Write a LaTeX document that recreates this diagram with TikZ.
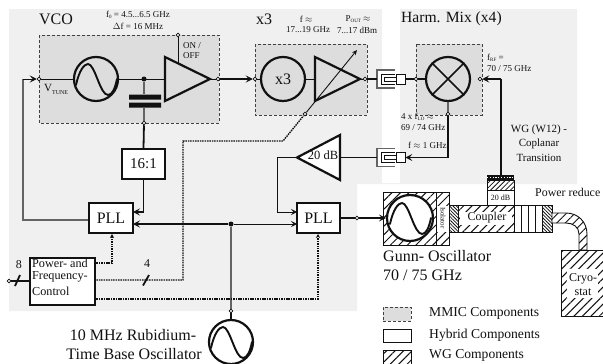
\documentclass[tikz,border=0pt]{standalone}
\usepackage{fontspec}
\setmainfont{Liberation Serif}
\usetikzlibrary{arrows.meta,patterns.meta}
\newcommand{\fsz}[1]{\fontsize{#1}{#1}\selectfont}
\definecolor{panel}{HTML}{F0F0F0}
\definecolor{mmic}{HTML}{DDDDDD}
\definecolor{ink}{HTML}{111111}
\tikzset{
  x=1pt,y=-1pt,
  txt/.style={inner sep=0pt,text=ink,align=center,font=\fsz{#1}},
  txt/.default=9,
  ltxt/.style={inner sep=0pt,text=ink,anchor=west,align=left,font=\fsz{#1}},
  mmicbox/.style={draw=ink!80,densely dashed,line width=.9pt,fill=mmic},
  block/.style={draw=ink,line width=1.9pt,fill=white,inner sep=0pt,text=ink},
  rnd/.style={circle,draw=ink,line width=2.2pt,minimum size=#1,inner sep=0pt,fill=none},
  rnd/.default=44pt,
  port/.style={circle,draw=ink,line width=.7pt,fill=white,minimum size=3.8pt,inner sep=0pt},
  dot/.style={circle,fill=ink,minimum size=5pt,inner sep=0pt},
  thin line/.style={draw=ink,line width=.9pt},
  gline/.style={draw=ink!65,line width=1.1pt},
  thick line/.style={draw=ink,line width=1.8pt},
  dots/.style={draw=ink,line width=1.4pt,dash pattern=on 1.5pt off .9pt},
  arr/.style={-{Stealth[length=7pt,width=7pt,inset=3pt]}},
  amp/.style={draw=ink,line width=2.2pt,line join=miter,fill=#1},
  amp/.default=none,
  wide hatch/.style={pattern={Lines[angle=45,distance=6pt,line width=1pt]},pattern color=ink},
  dense hatch/.style={pattern={Lines[angle=-45,distance=2.4pt,line width=.8pt]},pattern color=ink},
  wgbox/.style={draw=ink,line width=.9pt},
  pics/sine/.style={code={\draw[ink,line width=1.9pt,line cap=round]
     (-20,6) .. controls (-17,-8) and (-12,-15) .. (-8,-15)
     .. controls (-1,-15) and (4,16) .. (12,16)
     .. controls (16,16) and (19,10) .. (21,0);}},
  pics/coplanar/.style={code={
     \fill[white] (0,-9) rectangle (19,9);
     \draw[ink!65,line width=1.4pt] (18,-9) -- (0,-9) -- (0,9) -- (18,9);
     \draw[ink,line width=.9pt] (18,-5) -- (4,-5) -- (4,5) -- (18,5);
     \draw[ink,line width=.9pt,fill=white] (7,-2) rectangle (19,2);}},
}
\begin{document}
\begin{tikzpicture}
\clip (0,0) rectangle (603,364);
\fill[white] (0,0) rectangle (603,364);
% panels
\fill[panel] (9,9) -- (382,9) -- (382,183) -- (400,183) -- (400,9) -- (577,9) -- (577,184) -- (357,184) -- (357,311) -- (9,311) -- cycle;
% MMIC boxes
\path[mmicbox] (39,35) rectangle (219,123);
\path[mmicbox] (255,44) rectangle (367,115);
\path[mmicbox] (416,44) rectangle (482,115);
% ports
\node[port] (pTune) at (39,79) {};
\node[port] (pVcoOut) at (218,79) {};
\node[port] (pOn) at (178,35) {};
\node[port] (pDiv) at (144,123) {};
\node[port] (pX3In) at (255,79) {};
\node[port] (pX3Out) at (365,79) {};
\node[port] (pGain) at (305,114) {};
\node[port] (pMixIn) at (416,79) {};
\node[port] (pMixRF) at (480,79) {};
\node[port] (pMixIF) at (448,114) {};
\node[port] (pRef) at (231,311) {};
\node[port] (pIn) at (9,281) {};
\node[port] (pGunn) at (357,218) {};
% main blocks
\node[block,minimum width=43pt,minimum height=30pt,font=\fsz{15}] (div) at (143.5,164) {16:1};
\node[block,minimum width=44pt,minimum height=30pt,font=\fsz{16}] (pllA) at (111,218) {PLL};
\node[block,minimum width=43pt,minimum height=30pt,font=\fsz{16}] (pllB) at (318.5,218) {PLL};
\node[block,minimum width=65pt,minimum height=47pt,line width=1.5pt,anchor=north west] (ctrl) at (29,257) {};
% internal coordinates
\coordinate (aIn) at (165,79); \coordinate (aOut) at (210,79);
\coordinate (bIn) at (315,79); \coordinate (bOut) at (360,79);
\coordinate (bendTune) at (23,79);
\node[dot] (jVco) at (144,79) {};
\node[dot] (jRef) at (231,224) {};
% oscillator, x3, mixer
\node[rnd] (oscV) at (96,79) {};
\node[rnd,font=\fsz{16},text=ink] (x3c) at (283,79) {x3};
\node[rnd] (mix) at (448,79) {};
\node[rnd] (oscR) at (231,342) {};
\pic at (oscV) {sine};
\pic at (oscR) {sine};
\draw[ink,line width=1.7pt] (mix.north west) -- (mix.south east) (mix.north east) -- (mix.south west);
% VCO lines
\draw[thin line] (pTune) -- (oscV) (oscV) -- (aIn);
\draw[thin line] (pOn) -- (178,63);
\draw[gline] (jVco) -- (144,94) (144,108) -- (pDiv);
\fill[ink] (129,94.5) rectangle (161,99.5) (129,102.5) rectangle (161,107.5);
\draw[amp=mmic] (165,57) -- (aOut) -- (165,101) -- cycle;
\draw[thin line] (aOut) -- (pVcoOut);
% x3 lines
\draw[thin line] (x3c) -- (bIn);
\draw[thin line] (pX3In) -- (x3c);
\draw[amp=mmic] (315,57) -- (bOut) -- (315,101) -- cycle;
\draw[thin line] (bOut) -- (pX3Out);
\coordinate (gainTip) at (357,50);
\draw[thin line,-{Stealth[length=5pt,width=4.5pt]}] (pGain) -- (gainTip);
\draw[thick line,arr] (pVcoOut) -- (pX3In);
% coplanar transitions
\node[draw=ink,line width=.8pt,fill=white,minimum width=9pt,minimum height=10pt,inner sep=0pt] (trU) at (400.5,79) {};
\node[draw=ink,line width=.8pt,fill=white,minimum width=9pt,minimum height=10pt,inner sep=0pt] (trL) at (400.5,157.5) {};
\pic at (377,79) {coplanar};
\pic at (377,157.5) {coplanar};
\coordinate (trUin) at (377,79);
\coordinate (trLout) at (377,157.5);
\draw[thick line] (pX3Out) -- (trUin);
\draw[thick line] (trU) -- (pMixIn);
\draw[thick line] (pMixIn) -- (mix);
\draw[gline] (mix) -- (pMixIF);
\draw[draw=ink,line width=1.3pt,arr] (pMixIF) |- (trL);
% 20 dB amp
\coordinate (tip) at (297,157.5);
\draw[amp=white] (tip) -- (340,135) -- (340,180) -- cycle;
\node[txt=12.5] (g20) at (323,155) {20 dB};
\draw[thick line] (340,157.5) -- (trLout);
\coordinate (bendIF) at (277,157.5);
\coordinate (pllBup) at (297,212);
\draw[draw=ink,line width=1pt,-{Stealth[length=6pt,width=6pt,inset=2.5pt]}] (tip) -- (bendIF) |- (pllBup);
% PLL connections
\coordinate (pllAup) at (133,212);
\coordinate (pllAlo) at (133,224);
\coordinate (pllBlo) at (297,224);
\draw[thick line,arr] (div.south) |- (pllAup);
\draw[thick line] (pDiv) -- (div.north);
\draw[gline] (pllA.west |- 0,220) -| (bendTune);
\draw[draw=ink,line width=1pt,arr] (bendTune) -- (pTune);
\draw[thick line,arr] (jRef) -- (pllAlo);
\draw[draw=ink,line width=1pt,-{Stealth[length=6pt,width=6pt,inset=2.5pt]}] (jRef) -- (pllBlo);
\draw[draw=ink!65,line width=1.6pt] (jRef) -- (pRef);
\draw[thick line] (pRef) -- (oscR);
% control lines
\coordinate (cA) at (94,263);
\coordinate (cB) at (94,280);
\coordinate (cC) at (94,299);
\draw[dots,-{Stealth[length=4pt,width=4pt]}] (cA) -| (112,234);
\draw[dots] (cB) -- (183,280) -- (183,141) -- (283,141) -- (pGain);
\draw[dots,-{Stealth[length=4pt,width=4pt]}] (cC) -| (318,234);
\draw[draw=ink,line width=1.6pt] (pIn) -- (ctrl.west |- pIn);
\draw[ink,line width=1.8pt] (15,286) -- (20,275);
\draw[ink,line width=1.8pt] (143,285.5) -- (149,275);
% Gunn chain (waveguide)
\draw[wgbox,fill=white] (383,192) rectangle (449,245);
\path[wide hatch] (383,192) rectangle (449,245);
\draw[wgbox,fill=white] (436,192) rectangle (449,245);
\path[wide hatch] (436,192) rectangle (449,205);
\path[wide hatch] (436,232) rectangle (449,245);
\node[rnd=46pt,fill=white] (gunn) at (410,218) {};
\pic at (gunn) {sine};
\node[txt=7,rotate=-90] (iso) at (443,218) {Isolator};
\draw[thick line] (pllB.east |- pGunn) -- (pGunn);
\draw[thick line,arr] (pGunn) -- (gunn.west);
\draw[wgbox,fill=white] (449,205) rectangle (514,232);
\path[wide hatch] (458,205) rectangle (514,232);
\path[dense hatch,draw=ink,line width=.7pt] (449,205) rectangle (458,232);
\fill[white] (460,212) rectangle (512,225);
\node[txt=12] (coupler) at (487,218) {Coupler};
\draw[wgbox] (449,205) rectangle (514,232);
% power reduce section
\draw[wgbox,fill=white] (514,205) rectangle (542,232);
\draw[ink,line width=.9pt] (521,205) -- (521,232) (528,205) -- (528,232) (535,205) -- (535,232);
\path[dense hatch,draw=ink,line width=.7pt] (542,205) rectangle (552,232);
% bend
\path[wgbox,fill=white] (552,213) -- (566,213) .. controls (578,213) and (587,222) .. (587,234) -- (587,250) -- (579,250) -- (579,234) .. controls (579,227) and (573,223) .. (566,223) -- (552,223) -- cycle;
\path[wide hatch] (552,213) -- (566,213) .. controls (578,213) and (587,222) .. (587,234) -- (587,250) -- (579,250) -- (579,234) .. controls (579,227) and (573,223) .. (566,223) -- (552,223) -- cycle;
% cryostat
\draw[wgbox,fill=white] (561,250) rectangle (620,316);
\path[wide hatch] (561,250) rectangle (620,316);
\fill[white] (567,269) rectangle (598,298);
\node[txt=12] (cryo) at (583,284.5) {Cryo-\\[1.5pt]stat};
% attenuator stack
\draw[wgbox,fill=white] (487,190) rectangle (514,205);
\node[txt=8] (att) at (500.5,197.5) {20 dB};
\draw[wgbox,fill=white] (487,180) rectangle (514,190);
\path[pattern={Lines[angle=45,distance=3.5pt,line width=.8pt]},pattern color=ink] (487,180) rectangle (514,190);
\node[fill=ink,minimum width=27pt,minimum height=5.5pt,inner sep=0pt,anchor=north west] (wgt) at (487,175) {};
\draw[white,line width=.5pt,dash pattern=on 1.2pt off 1.6pt] (487,177.7) -- (514,177.7);
\coordinate (wgtUp) at (501,79);
\draw[thick line] (wgt.north -| wgtUp) -- (wgtUp);
\draw[thick line,arr] (wgtUp) -- (pMixRF);
% legend
\node[draw=ink!80,densely dashed,line width=.8pt,fill=mmic,minimum width=28pt,minimum height=14pt,inner sep=0pt] (lgA) at (397,314) {};
\node[draw=ink,line width=.8pt,minimum width=28pt,minimum height=13pt,inner sep=0pt] (lgB) at (397,335.5) {};
\path[wgbox,wide hatch] (383,350) rectangle (411,365);
\node[ltxt=13.6] (ltA) at (429,313) {MMIC Components};
\node[ltxt=13.6] (ltB) at (429,335) {Hybrid Components};
\node[ltxt=13.6] (ltC) at (429,355.5) {WG Components};
% labels
\node[txt=16] (tVco) at (56,19) {VCO};
\node[txt=9] (t1) at (138,15) {f\raisebox{-1.5pt}{\fsz{5}0} = 4.5...6.5 GHz};
\node[txt=9] (t2) at (138,26) {$\Delta$f = 16 MHz};
\node[ltxt=9] (t3) at (183,46) {ON /};
\node[ltxt=9] (t4) at (183,56) {OFF};
\node[ltxt=11] (t5) at (44,89) {V\raisebox{-3pt}{\fsz{6}TUNE}};
\node[txt=16] (t6) at (264,19) {x3};
\node[txt=9] (t7) at (306,19) {f $\approx$};
\node[txt=9] (t8) at (308,30) {17...19 GHz};
\node[txt=9] (t9) at (358,19) {P\raisebox{-1.5pt}{\fsz{5}OUT} $\approx$};
\node[txt=9] (t10) at (357,30) {7...17 dBm};
\node[ltxt=15.6] (t11) at (401,19) {Harm. Mix (x4)};
\node[ltxt=9] (t12) at (487,58) {f\raisebox{-1.5pt}{\fsz{5}RF} =};
\node[ltxt=9] (t13) at (487,69) {70 / 75 GHz};
\node[ltxt=9] (t14) at (401,117) {4 x f\raisebox{-1.5pt}{\fsz{5}LO} $\approx$};
\node[ltxt=9] (t15) at (401,128) {69 / 74 GHz};
\node[ltxt=9] (t16) at (408,145) {f $\approx$ 1 GHz};
\node[txt=11] (t17) at (539,130) {WG (W12) -};
\node[txt=11] (t18) at (539,144) {Coplanar};
\node[txt=11] (t19) at (539,158) {Transition};
\node[ltxt=11.9] (t20) at (535,192) {Power reduce};
\node[ltxt=16] (t21) at (383,256) {Gunn- Oscillator};
\node[ltxt=16] (t22) at (383,275) {70 / 75 GHz};
\node[txt=16,anchor=center] (t23) at (133,335) {10 MHz Rubidium-};
\node[txt=16,anchor=east] (t24) at (202,354) {Time Base Oscillator};
\node[txt=12] (t25) at (19,265) {8};
\node[txt=12] (t26) at (147,264) {4};
\node[ltxt=12.2] (t27) at (32,263) {Power- and};
\node[ltxt=12.2] (t28) at (32,277) {Frequency-};
\node[ltxt=12.2] (t29) at (32,291) {Control};
\end{tikzpicture}
\end{document}
